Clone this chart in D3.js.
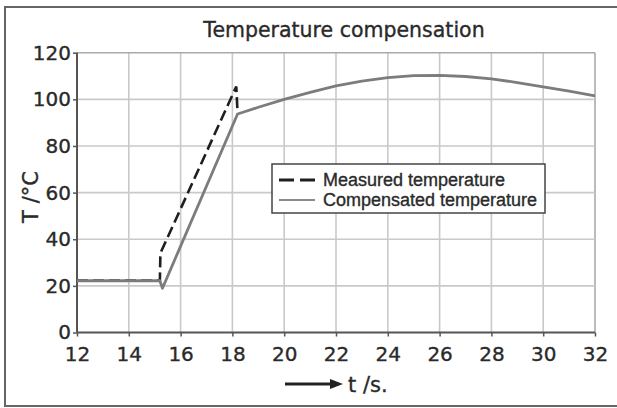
<!DOCTYPE html>
<html>
<head>
<meta charset="utf-8">
<script src="https://cdn.jsdelivr.net/npm/d3@7"></script>
<style>
  body { margin: 0; background: #fff; }
  text { fill: #2a2a2a; stroke: #2a2a2a; stroke-width: 0.35px; }
</style>
</head>
<body>
<div id="chart"></div>
<script>
// valores
const measured = [
  [12, 22.3], [15.2, 22.3], [15.22, 34], [18.15, 105.5], [18.2, 94]
];
const compensated = [
  [12, 22.2], [15.2, 22.2], [15.3, 19], [18.2, 93.7], [19, 96.6], [20, 100],
  [21, 103], [22, 105.8], [23, 107.8], [24, 109.3], [25, 110.2], [26, 110.3],
  [27, 109.8], [28, 108.8], [29, 107.2], [30, 105.3], [31, 103.5], [32, 101.5]
];
const xTicks = [12, 14, 16, 18, 20, 22, 24, 26, 28, 30, 32];
const yTicks = [0, 20, 40, 60, 80, 100, 120];
const names = ["Measured temperature", "Compensated temperature"];

const width = 617, height = 408;
const svg = d3.select("#chart").append("svg")
  .attr("width", width)
  .attr("height", height);

// marco exterior
svg.append("rect")
  .attr("x", 5).attr("y", 7)
  .attr("width", 620).attr("height", 399)
  .attr("fill", "none")
  .attr("stroke", "#666")
  .attr("stroke-width", 2);

const x = d3.scaleLinear().domain([12, 32]).range([77, 595]);
const y = d3.scaleLinear().domain([0, 120]).range([332.5, 52.7]);

// rejilla
svg.append("g").selectAll("line.v")
  .data(xTicks.slice(1))
  .enter().append("line")
  .attr("x1", d => x(d)).attr("x2", d => x(d))
  .attr("y1", y(0)).attr("y2", y(120))
  .attr("stroke", d => d === 32 ? "#aaa" : "#c9c9cd")
  .attr("stroke-width", 1.6);

svg.append("g").selectAll("line.h")
  .data(yTicks.slice(1))
  .enter().append("line")
  .attr("x1", x(12)).attr("x2", x(32))
  .attr("y1", d => y(d)).attr("y2", d => y(d))
  .attr("stroke", d => d === 120 ? "#aaa" : "#c9c9cd")
  .attr("stroke-width", 1.6);

// ejes
const xAxis = svg.append("g")
  .attr("transform", "translate(0," + y(0) + ")")
  .call(d3.axisBottom(x).tickValues(xTicks).tickSize(4).tickPadding(9));
const yAxis = svg.append("g")
  .attr("transform", "translate(" + x(12) + ",0)")
  .call(d3.axisLeft(y).tickValues(yTicks).tickSize(4).tickPadding(2));

[xAxis, yAxis].forEach(g => {
  g.select(".domain").attr("stroke", "#555").attr("stroke-width", 2);
  g.selectAll(".tick line").attr("stroke", "#555").attr("stroke-width", 1.5);
  g.selectAll(".tick text")
    .attr("fill", "#2a2a2a")
    .style("font-family", "DejaVu Sans")
    .style("font-size", "20px");
});
xAxis.selectAll(".tick text").attr("dy", "0.75em");
xAxis.select(".domain").attr("d", "M" + x(12) + ",0H" + x(32));
yAxis.select(".domain").attr("d", "M0," + y(0) + "V" + y(120));

// lineas
const line = d3.line().x(d => x(d[0])).y(d => y(d[1]));

svg.append("path")
  .datum(measured)
  .attr("d", line)
  .attr("fill", "none")
  .attr("stroke", "#1e1e1e")
  .attr("stroke-width", 2.6)
  .attr("stroke-dasharray", "11,5");

svg.append("path")
  .datum(compensated)
  .attr("d", line)
  .attr("fill", "none")
  .attr("stroke", "#7c7c7c")
  .attr("stroke-width", 2.8)
  .attr("stroke-linejoin", "round");

// titulo y etiquetas
svg.append("text")
  .attr("x", 344).attr("y", 37)
  .attr("text-anchor", "middle")
  .style("font-family", "DejaVu Sans")
  .style("font-size", "20.5px")
  .text("Temperature compensation");

svg.append("text")
  .attr("transform", "translate(38,197) rotate(-90)")
  .attr("text-anchor", "middle")
  .style("font-family", "DejaVu Sans")
  .style("font-size", "21px")
  .text("T /°C");

svg.append("line")
  .attr("x1", 285).attr("x2", 332)
  .attr("y1", 384).attr("y2", 384)
  .attr("stroke", "#222").attr("stroke-width", 3);
svg.append("path")
  .attr("d", "M330,379L343,384L330,389Z")
  .attr("fill", "#222");
svg.append("text")
  .attr("x", 348).attr("y", 392)
  .style("font-family", "DejaVu Sans")
  .style("font-size", "21px")
  .text("t /s.");

// leyenda
const legend = svg.append("g");
legend.append("rect")
  .attr("x", 272).attr("y", 164)
  .attr("width", 273).attr("height", 49)
  .attr("fill", "#fff")
  .attr("stroke", "#444")
  .attr("stroke-width", 1.5);

legend.selectAll("line")
  .data(names)
  .enter().append("line")
  .attr("x1", 279).attr("x2", 315)
  .attr("y1", (d, i) => 180 + i * 20).attr("y2", (d, i) => 180 + i * 20)
  .attr("stroke", (d, i) => i === 0 ? "#1e1e1e" : "#8a8a8a")
  .attr("stroke-width", (d, i) => i === 0 ? 3 : 2)
  .attr("stroke-dasharray", (d, i) => i === 0 ? "15,6" : null);

legend.selectAll("text")
  .data(names)
  .enter().append("text")
  .attr("x", 323)
  .attr("y", (d, i) => 186 + i * 20)
  .style("font-family", "Liberation Sans")
  .style("font-size", "18px")
  .text(d => d);
</script>
</body>
</html>
